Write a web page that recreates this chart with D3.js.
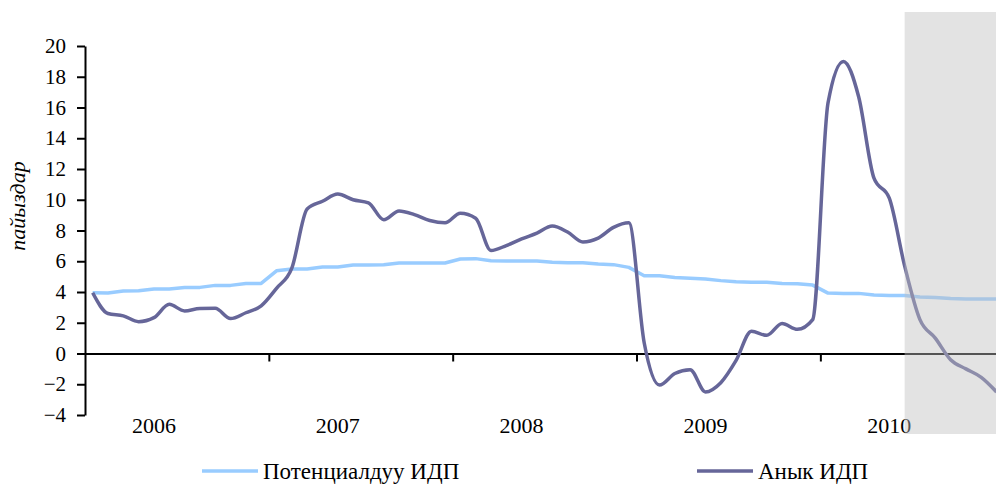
<!DOCTYPE html>
<html>
<head>
<meta charset="utf-8">
<script src="https://cdn.jsdelivr.net/npm/d3@7"></script>
<style>
  body { margin: 0; background: #fff; }
  svg { display: block; }
</style>
</head>
<body>
<div id="chart"></div>
<script>
// years and months on the category axis
var years = ['2006', '2007', '2008', '2009', '2010'];
var monthNames = ['Jan','Feb','Mar','Apr','May','Jun','Jul','Aug','Sep','Oct','Nov','Dec'];
var months = [];
years.forEach(function(y){ monthNames.forEach(function(m){ months.push(y + '-' + m) }) });

// Потенциалдуу ИДП (light blue)
var potential = [
  3.95, 3.94, 4.07, 4.08, 4.20, 4.20, 4.30, 4.30, 4.43, 4.43, 4.56, 4.56,
  5.38, 5.50, 5.50, 5.63, 5.63, 5.76, 5.76, 5.77, 5.89, 5.89, 5.89, 5.89,
  6.15, 6.17, 6.03, 6.02, 6.02, 6.02, 5.93, 5.91, 5.91, 5.82, 5.78, 5.60,
  5.06, 5.05, 4.95, 4.89, 4.85, 4.74, 4.66, 4.64, 4.64, 4.56, 4.53, 4.45,
  3.93, 3.91, 3.91, 3.80, 3.78, 3.77, 3.67, 3.65, 3.57, 3.54, 3.54, 3.54
];

// Анык ИДП (dark)
var actual = [
  3.95, 2.60, 2.45, 2.07, 2.33, 3.20, 2.77, 2.93, 2.94, 2.27, 2.65, 3.10,
  4.24, 5.55, 9.40, 9.90, 10.37, 10.00, 9.80, 8.70, 9.27, 9.03, 8.65, 8.50,
  9.12, 8.80, 6.70, 7.02, 7.45, 7.83, 8.29, 7.90, 7.25, 7.50, 8.20, 8.50,
  0.70, -2.05, -1.30, -1.05, -2.50, -1.90, -0.45, 1.45, 1.18, 1.95, 1.57, 2.20,
  16.3, 19.0, 16.7, 11.4, 10.1, 5.70, 2.20, 1.00, -0.40, -1.00, -1.55, -2.50
];

var yTicks = [-4, -2, 0, 2, 4, 6, 8, 10, 12, 14, 16, 18, 20];
var forecastStart = '2010-Jun';
var seriesNames = ['Потенциалдуу ИДП', 'Анык ИДП'];
var colors = ['#99ccff', '#666699'];

var serif = "'Liberation Serif', 'Times New Roman', serif";
var width = 996, height = 486;
var plotLeft = 85, plotTop = 46, plotBottom = 415;
var step = 15.32;

var svg = d3.select('#chart').append('svg')
    .attr('width', width)
    .attr('height', height);

var x = d3.scaleBand()
    .domain(months)
    .range([plotLeft, plotLeft + months.length * step])
    .padding(0);
var xc = function(m){ return x(m) + x.bandwidth() / 2 };

// index scale used for the year boundary ticks
var xi = d3.scaleLinear()
    .domain([0, months.length])
    .range([plotLeft, plotLeft + months.length * step]);

var y = d3.scaleLinear()
    .domain([-4, 20])
    .range([plotBottom, plotTop]);

// y axis
var yAxis = svg.append('g')
    .attr('transform', 'translate(' + plotLeft + ',0)')
    .call(d3.axisLeft(y).tickValues(yTicks).tickSize(8).tickPadding(11).tickSizeOuter(0));
yAxis.selectAll('path, line').attr('stroke', '#000').attr('stroke-width', 2);
yAxis.selectAll('text')
    .style('font-family', serif)
    .style('font-size', '21px')
    .style('fill', '#000');

// x axis on the zero line
var yearStarts = years.slice(1).map(function(d){ return months.indexOf(d + '-Jan') });
var xAxis = svg.append('g')
    .attr('transform', 'translate(0,' + y(0) + ')')
    .call(d3.axisBottom(xi).tickValues(yearStarts).tickSize(8).tickSizeOuter(0).tickFormat(''));
xAxis.selectAll('path, line').attr('stroke', '#000').attr('stroke-width', 2);

// year labels
svg.selectAll('.year')
    .data(years).enter()
    .append('text')
    .attr('class', 'year')
    .attr('x', function(d){ return xc(d + '-May') })
    .attr('y', 433)
    .attr('text-anchor', 'middle')
    .style('font-family', serif)
    .style('font-size', '22px')
    .text(function(d){ return d });

// y title
svg.append('text')
    .attr('transform', 'translate(25,206) rotate(-90)')
    .attr('text-anchor', 'middle')
    .style('font-family', serif)
    .style('font-size', '22px')
    .style('font-style', 'italic')
    .text('пайыздар');

// lines
var line = function(values, curve){
  return d3.line()
    .x(function(d, i){ return xc(months[i]) })
    .y(function(d){ return y(d) })
    .curve(curve)(values);
};

svg.append('path')
    .attr('d', line(potential, d3.curveLinear))
    .attr('fill', 'none')
    .attr('stroke', colors[0])
    .attr('stroke-width', 3.5)
    .attr('stroke-linejoin', 'round');

svg.append('path')
    .attr('d', line(actual, d3.curveMonotoneX))
    .attr('fill', 'none')
    .attr('stroke', colors[1])
    .attr('stroke-width', 3.5)
    .attr('stroke-linejoin', 'round');

// forecast shading, drawn over the lines
svg.append('rect')
    .attr('x', xc(forecastStart))
    .attr('y', 12)
    .attr('width', width - xc(forecastStart))
    .attr('height', 422)
    .attr('fill', '#c0c0c0')
    .attr('opacity', 0.44);

// legend
var legendX = [202, 697];
var lg = svg.selectAll('.legend')
    .data(seriesNames).enter()
    .append('g')
    .attr('class', 'legend')
    .attr('transform', function(d, i){ return 'translate(' + legendX[i] + ',471)' });
lg.append('line')
    .attr('x1', 0).attr('x2', 56)
    .attr('stroke', function(d, i){ return colors[i] })
    .attr('stroke-width', 3.5);
lg.append('text')
    .attr('x', 61)
    .attr('y', 8)
    .style('font-family', serif)
    .style('font-size', '23px')
    .text(function(d){ return d });
</script>
</body>
</html>
